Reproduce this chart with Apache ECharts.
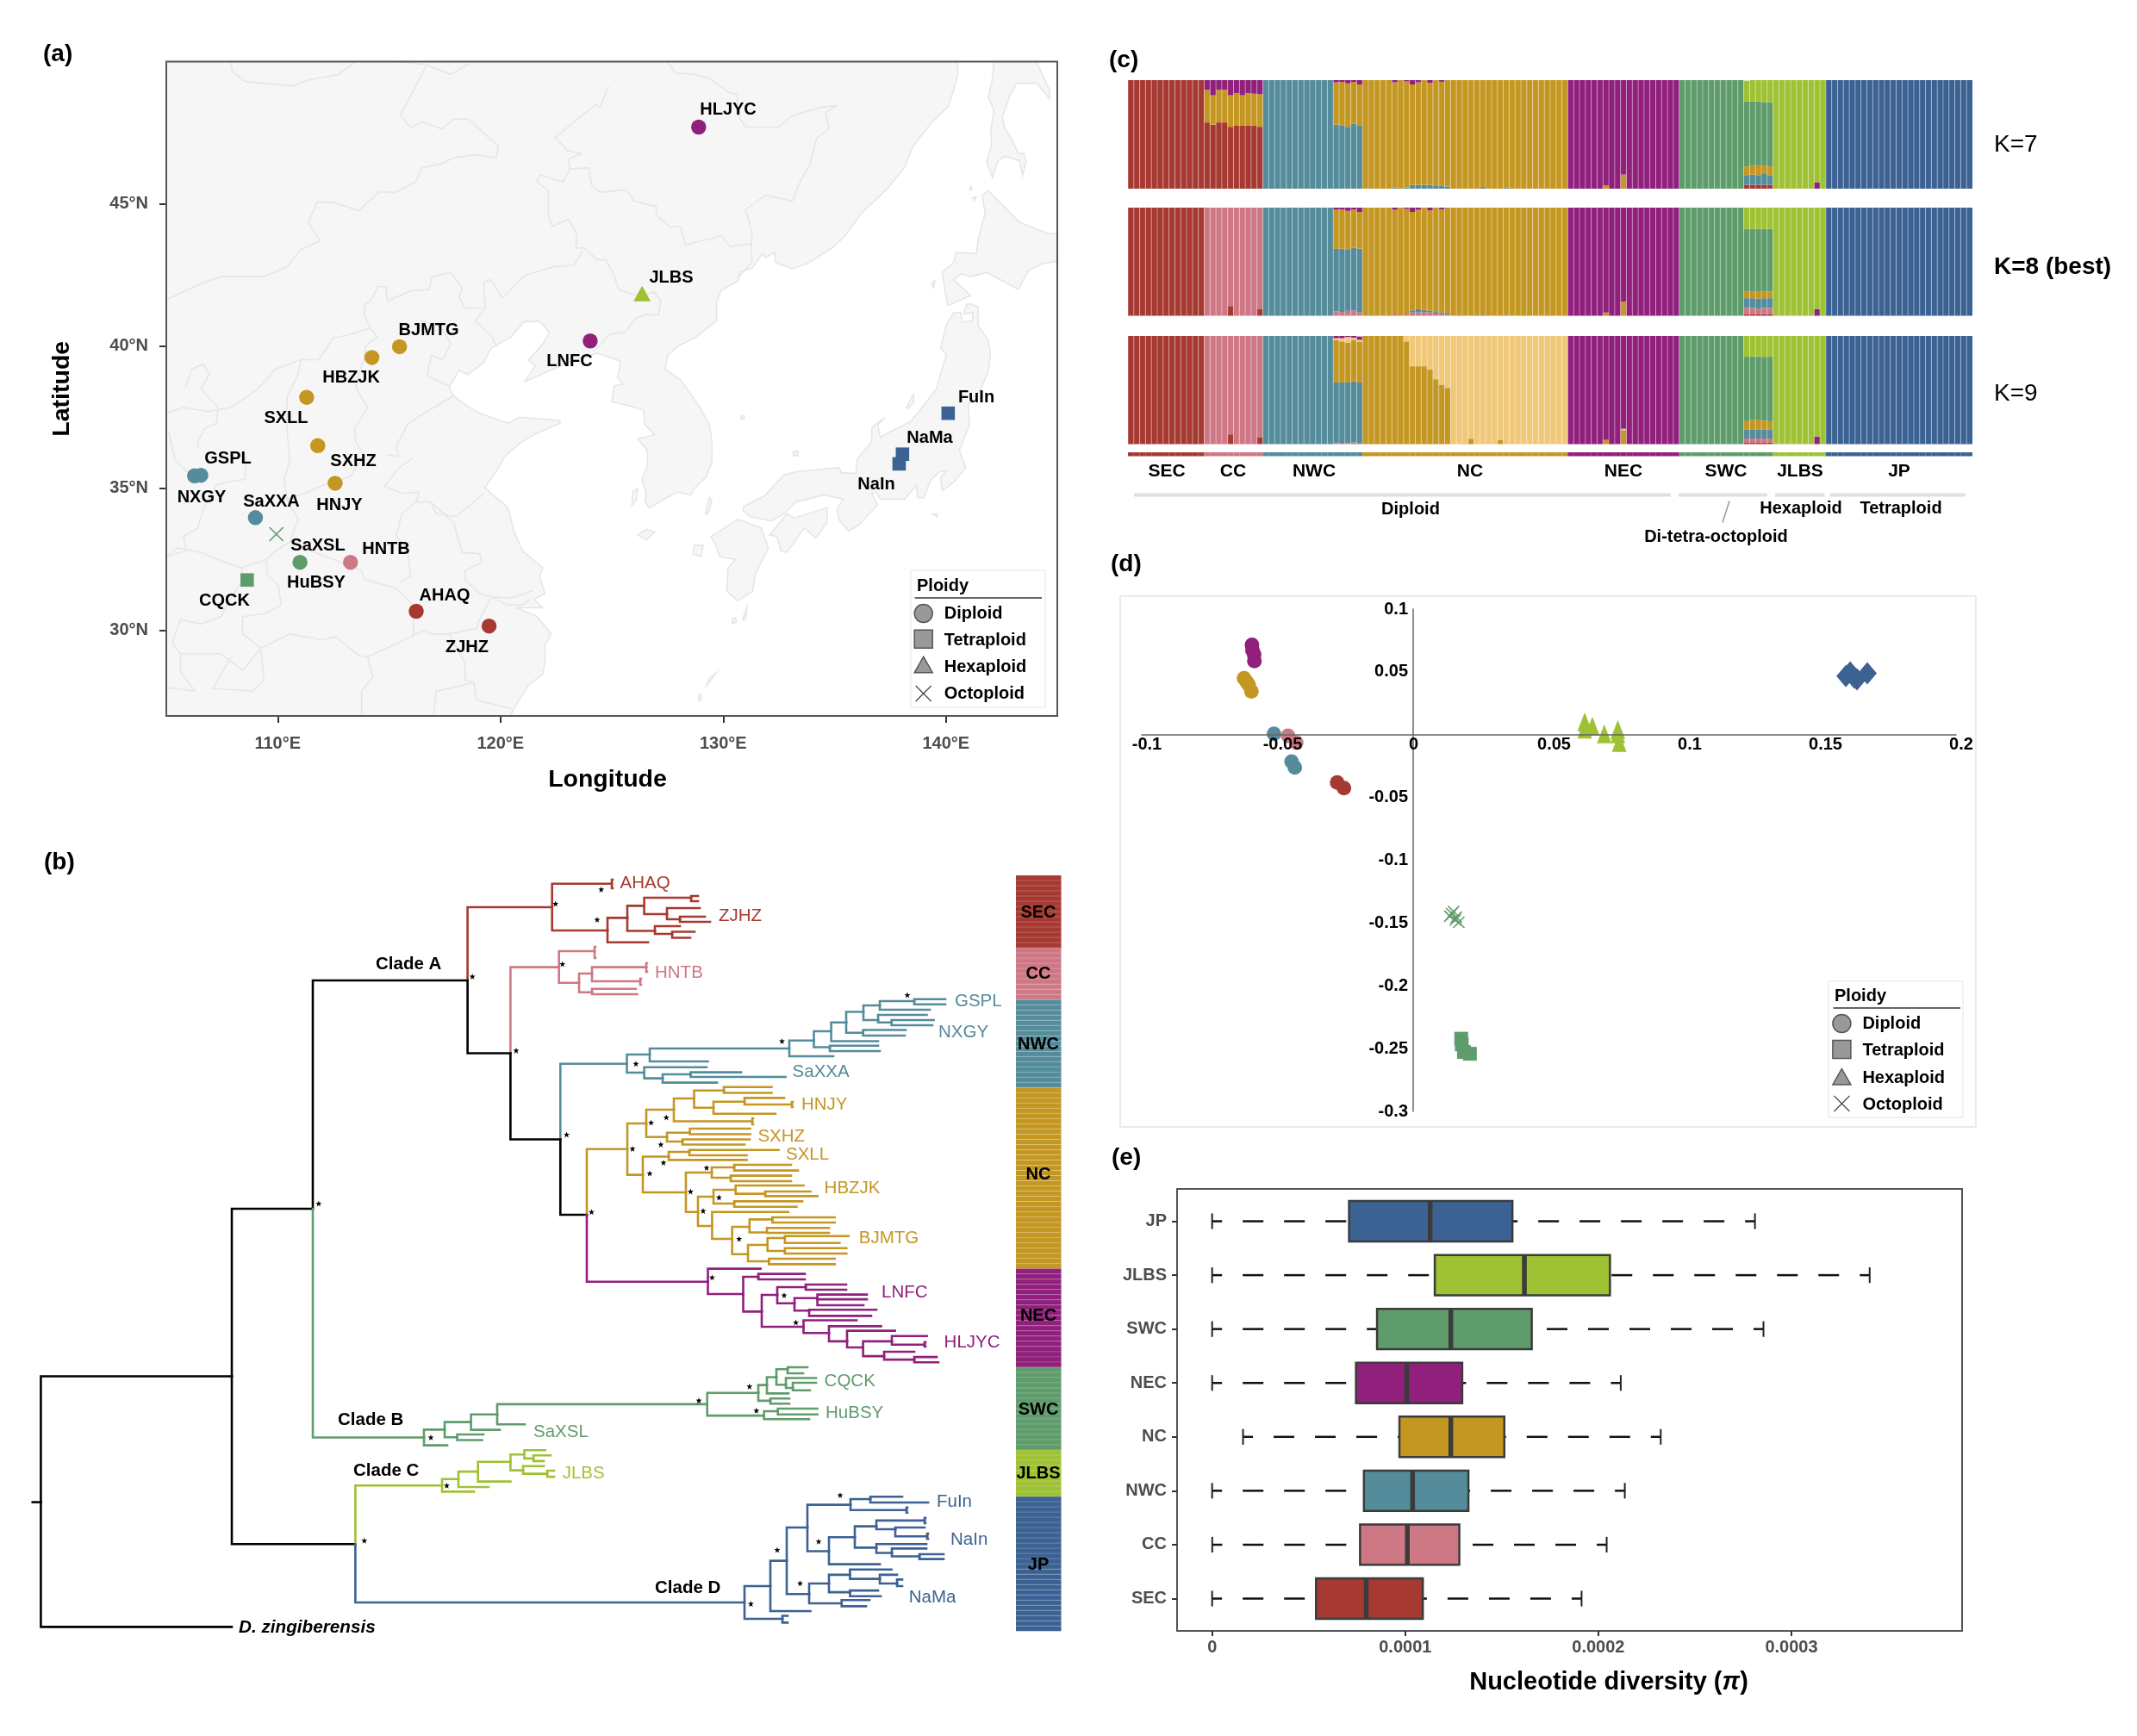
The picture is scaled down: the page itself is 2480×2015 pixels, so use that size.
<!DOCTYPE html>
<html><head><meta charset="utf-8">
<style>html,body{margin:0;padding:0;background:#fff}#c{width:2480px;height:2015px}</style>
<script src="https://cdn.jsdelivr.net/npm/echarts@6/dist/echarts.min.js"></script>
</head><body><div id="c"></div>
<script>
const FONT='"Liberation Sans"';
const RED='#A63A32',PINK='#CF7885',TEAL='#558C9B',GOLD='#C49723',LIGHT='#EFC87A',PURPLE='#90207C',GREEN='#5F9C6C',LIME='#9FC235',BLUE='#3C6293';

// ---------- (a) sampling sites [lon, lat]
const sitesDiploid=[
 {n:'HLJYC',c:PURPLE,p:[128.9,47.7]},{n:'LNFC',c:PURPLE,p:[124.03,40.18]},{n:'BJMTG',c:GOLD,p:[115.47,39.98]},
 {n:'HBZJK',c:GOLD,p:[114.23,39.6]},{n:'SXLL',c:GOLD,p:[111.3,38.2]},{n:'SXHZ',c:GOLD,p:[111.8,36.5]},
 {n:'HNJY',c:GOLD,p:[112.58,35.18]},{n:'GSPL',c:TEAL,p:[106.55,35.46]},{n:'NXGY',c:TEAL,p:[106.27,35.44]},
 {n:'SaXXA',c:TEAL,p:[109,33.97]},{n:'HuBSY',c:GREEN,p:[111,32.4]},{n:'HNTB',c:PINK,p:[113.27,32.4]},
 {n:'AHAQ',c:RED,p:[116.22,30.68]},{n:'ZJHZ',c:RED,p:[119.49,30.16]}];
const sitesTetraploid=[{n:'CQCK',c:GREEN,p:[108.63,31.78]},{n:'FuIn',c:BLUE,p:[140.1,37.64]},{n:'NaMa',c:BLUE,p:[138.05,36.2]},{n:'NaIn',c:BLUE,p:[137.9,35.86]}];
const sitesHexaploid=[{n:'JLBS',c:LIME,p:[126.36,41.85]}];
const sitesOctoploid=[{n:'SaXSL',c:GREEN,p:[109.94,33.39]}];
const latTicks=[30,35,40,45], lonTicks=[110,120,130,140];

// land outlines [lon,lat]
const landMain=[[105,50],[140.5,50],[140.54,49.6],[140.35,49],[140.09,48.4],[139.4,47.9],[138.5,47],[138.15,46.3],[137.4,45.56],[136.2,44.66],[135.45,43.85],[134.9,43.45],[133.77,42.9],[133.1,42.72],[132.35,42.94],[132.3,43.3],[131.9,43.1],[131.77,43.25],[131.3,42.74],[130.74,42.6],[130.67,42.3],[129.9,41.94],[129.7,41.53],[129.7,40.88],[128.74,40.3],[127.97,40],[127.5,39.67],[127.4,39.2],[128.1,38.8],[128.33,38.55],[128.87,37.95],[129.38,37.24],[129.5,36.63],[129.5,35.93],[129.25,35.42],[128.74,35.02],[128.55,34.77],[127.97,34.87],[127.45,34.67],[126.68,34.3],[126.48,34.57],[126.55,34.82],[126.35,35.3],[126.6,35.83],[126.6,36.33],[126.16,36.74],[126.93,36.89],[126.48,37.24],[126.42,37.74],[125.77,37.9],[125,38.05],[125.1,38.6],[125.5,38.66],[125.26,38.9],[125.39,39.47],[125.1,39.55],[124.34,39.75],[123.3,39.5],[122.28,39.16],[121.1,38.76],[121.57,39.3],[121.25,39.5],[121.9,40.07],[122.2,40.47],[121.76,40.88],[121.05,40.85],[120.47,40.32],[119.57,39.92],[119.25,39.42],[118.54,39],[118.15,39.16],[117.7,38.55],[117.9,38.25],[118.4,37.95],[119.05,37.64],[120.35,37.29],[120.86,37.5],[122.67,37.39],[122.67,37.29],[121.5,36.89],[120.86,36.58],[120.2,36.13],[119.83,35.63],[119.3,35.02],[120.34,34.32],[120.6,33.5],[121,32.8],[121.9,32.2],[121.76,31.9],[122,31.3],[121.5,31.1],[121.9,30.8],[120.73,30.8],[121.63,30.5],[122.28,29.88],[122,29.48],[122,28.87],[121.9,28.47],[121.25,28.07],[120.6,27.26],[120.47,27],[105,27]];
const landSakhalin=[[142.15,50],[142.09,49.4],[141.9,48.74],[142.15,48.3],[142.02,47.58],[142.05,47.08],[141.83,46.47],[142.09,45.92],[142.34,46.52],[142.67,46.67],[143.3,46.52],[143.44,46],[143.6,46.47],[143.5,46.77],[143.25,46.77],[142.92,47.33],[142.6,47.73],[142.54,48.08],[142.92,48.9],[143.18,49.24],[144.08,49.24],[144.66,48.69],[144.66,48.99],[144.06,50]];
const landHokkaido=[[141.9,45.46],[141.63,45.31],[141.76,44.66],[141.44,43.75],[141.38,43.25],[140.47,43.3],[140.34,42.94],[139.83,42.59],[139.96,41.94],[140.09,41.43],[141.12,41.78],[140.67,42.09],[140.34,42.34],[140.67,42.54],[141.12,42.44],[141.83,42.59],[143.25,41.99],[143.7,42.64],[144.34,42.9],[145.1,43],[145.1,43.95],[144.6,43.95],[143.3,44.35],[142.54,44.96]];
const landHonshu=[[140.93,41.48],[141.12,41.48],[141.44,41.38],[141.44,40.73],[141.9,40.2],[142,39.72],[141.9,39.11],[141.57,38.5],[141,37.95],[141.05,37.24],[140.6,36.33],[140.89,35.73],[140.35,35.22],[139.83,34.92],[139.76,35.37],[140.02,35.63],[139.7,35.58],[139.3,35.27],[139,34.67],[138.73,34.67],[138.67,35.12],[138.15,34.62],[137.06,34.62],[136.86,34.87],[136.67,34.82],[136.93,34.42],[136.09,33.71],[135.64,33.5],[135.19,33.91],[135.12,34.27],[135.38,34.62],[134.54,34.77],[133.25,34.52],[132.74,34.11],[132.16,33.86],[131.2,34.01],[130.9,34.22],[130.93,34.37],[131.83,34.72],[132.74,35.47],[133.25,35.58],[135.19,35.73],[135.32,35.55],[135.96,35.52],[136.02,36.03],[136.67,36.63],[136.67,37.14],[137.25,37.49],[136.93,37.24],[137.06,36.79],[137.5,36.99],[138.4,37.34],[138.93,37.84],[139.57,38.5],[140.02,39.72],[139.76,39.92],[140.02,40.73],[140.34,41.18],[140.67,41.18],[140.73,40.83],[141.18,40.88],[141.22,41.18],[140.8,41.13]];
const landShikoku=[[132.09,33.36],[132.87,34.11],[133.19,33.96],[134.67,34.32],[134.67,33.81],[134.16,33.26],[133.64,33.61],[132.87,32.75],[132.6,32.8],[132.41,33.31]];
const landKyushu=[[129.45,33.31],[130.67,33.91],[131.7,33.61],[132.03,32.9],[131.45,32],[131.32,31.39],[130.67,31.04],[130.16,31.39],[130.22,32.2],[130.54,32.5],[129.84,32.6],[129.64,33.05]];
const landSmall=[
 [[126.16,33.36],[126.55,33.56],[126.93,33.46],[126.55,33.2]],
 [[138.22,37.84],[138.54,38.3],[138.57,38.05],[138.28,37.79]],
 [[129.2,34.1],[129.38,34.67],[129.49,34.57],[129.32,34.1]],
 [[130.87,30.38],[131.06,30.8],[131,30.38]],[[130.4,30.4],[130.55,30.45],[130.6,30.3],[130.42,30.25]],
 [[129.38,28.32],[129.7,28.52],[129.26,28.07]],[[128.9,27.75],[129,27.75],[129,27.55],[128.9,27.55]],
 [[141.05,45.5],[141.12,45.62],[141.18,45.5]],[[141.2,45.2],[141.35,45.25],[141.3,45.12]],[[139.35,42.2],[139.5,42.3],[139.45,42.05]],
 [[130.8,37.55],[130.95,37.55],[130.95,37.45],[130.8,37.45]],[[133.15,36.3],[133.35,36.3],[133.35,36.15],[133.15,36.15]],
 [[128.7,33.0],[129.1,33.0],[129.0,32.6],[128.65,32.7]],[[125.95,34.9],[126.15,35],[126.1,34.6],[125.9,34.4]],
 [[139.4,34.1],[139.6,34.1],[139.6,34]]];
// province and national borders [lon,lat]
const borderLines=[
 [[105,41.63],[106.68,42.24],[107.45,42.44],[109.38,42.44],[110.42,42.79],[111.06,43.4],[111.9,43.7],[111.38,44.35],[111.77,45.06],[112.48,45.06],[113.64,44.76],[114.54,45.41],[115.3,45.41],[116.2,45.77],[116.48,46.27],[117.38,46.42],[117.9,46.62],[118.8,46.72],[119.83,46.62],[119.9,47.03],[119.12,47.58],[118.54,47.98],[117.9,47.98],[117.38,47.63],[116.48,47.88],[115.96,47.68],[115.5,48.13],[115.77,48.49],[116.67,49.85]],
 [[115.3,50],[116.6,49.9],[117.77,49.55],[118.54,49.9],[118.67,50]],
 [[107.9,50],[107.97,49.65],[108.55,49.3],[110.67,49.14],[111.32,49.34],[112.74,49.55],[113.5,50]],
 [[127.5,50],[127.85,49.6],[128.75,49.55],[129.4,49.4],[130.3,48.9],[130.65,48.85],[130.6,48.2],[131,47.7],[132.5,47.7],[133.1,48.1],[134.4,48.4],[135.1,48.45],[134.6,48.2],[134.75,47.65],[134.2,47.3],[133.9,46.4],[133.5,45.85],[133.1,45.1],[131.9,45.3],[131,44.8],[131.3,44],[131.25,43.45],[131.3,42.95],[130.65,42.4]],
 [[124.86,49.14],[124.47,48.39],[124.28,48.49],[123.3,47.88],[122.47,47.33],[123,46.87],[123.63,46.77],[123.05,46.57],[123.12,46.22],[123.96,46.27],[124.09,45.67],[124.47,45.41],[125.65,45.5],[126,45.1],[127,44.9],[127,44.6],[127.6,44.2],[128.1,44.2],[128.3,43.55],[129,43.7],[129.6,43.8],[129.9,43.9],[130.3,43.5],[131.3,43.6]],
 [[121.63,45.77],[121.77,46.02],[122.8,45.77],[123.12,46.22]],
 [[121.63,45.77],[122.15,45.46],[122.15,44.56],[122.34,44.2],[123.05,44.46],[123.44,43.95],[123.38,43.45],[123.76,43.45],[124.34,43.04],[124.73,43.04],[125.1,42.49],[125.3,42],[126,41.8],[126.5,41.8],[126.9,41.9],[127.2,41.6],[127.1,41.1],[126.5,41.1],[126.1,41],[125.6,40.5],[124.9,40.4],[124.3,39.9]],
 [[123.7,43.35],[123.3,42.84],[122.4,42.79],[121.1,42.49],[120.09,41.68],[119.57,42.34],[119.25,42.24],[119.32,41.33],[118.86,40.88],[119.64,40.32],[119.83,39.97]],
 [[119.25,41.33],[118.41,41.33],[118.15,41.73],[118.28,42.04],[117.77,42.6],[116.93,42.44],[116.8,41.99],[115.96,41.94],[114.93,41.58],[114.86,42.09],[114.48,42.09],[114.22,41.63],[113.9,41.43],[113.9,41.08],[114.15,40.63],[114.48,40.32],[113.96,40.02],[113.9,39.6],[113.6,38.9],[113.5,38.55],[114.03,37.84],[113.45,37.09],[113.51,36.63],[113.9,36.13],[113.51,35.73],[113.25,35.42],[112.09,35.12],[111.19,34.82],[110.42,34.62]],
 [[114.15,40.63],[113.2,40.4],[112.48,40.27],[111.83,39.52],[111.06,39.52],[109.9,39.2],[109.13,38.5],[107.9,37.84],[106.9,37.7],[105.77,37.84],[105,37.64]],
 [[111.06,39.52],[110.9,39],[110.42,38.2],[110.42,37.04],[110.54,36.0],[110.29,35.3],[110.42,34.62],[110.93,33.9],[110.54,33.11]],
 [[105.84,38.5],[106.16,39.2],[106.68,39.36],[106.93,39],[106.55,38.5],[107.32,37.84],[107.26,37.29],[106.68,37.09],[106.42,36.6],[106.42,36.38]],
 [[108.55,36.13],[108.55,35.32],[107.71,35.22],[107.26,35.12],[106.68,34.32],[106.42,33.61],[105.77,33.31],[105.9,32.8],[105,32.6]],
 [[105.1,37],[105.4,36],[105.9,35.6],[106.42,35.4]],
 [[105.0,32.6],[105.5,32.9],[106.55,32.75],[107.32,32.5],[108.35,32.2],[109.51,32.5],[109.9,32.8],[110.54,33.11],[111.19,32.9],[111.83,32.7],[112.87,32.4],[113.77,32.1],[113.9,31.8],[115.32,31.49],[115.44,31.39],[116.09,30.89]],
 [[109.51,32.5],[109.51,31.99],[110.03,31.59],[110.16,30.89],[109.38,30.59],[108.42,30.49],[108.42,29.88],[109.26,29.38],[110.54,29.88],[111.96,29.68],[112.61,29.78],[113.64,29.12],[114.03,29.07],[115.96,29.78],[116.6,30.03]],
 [[108.42,32.2],[108.35,31.7],[107.58,30.69],[107.45,30.49],[106.55,30.23],[105.64,30.39],[105.26,29.58],[105.64,29.18],[107.45,29.18],[108.42,28.6],[109.26,29.38]],
 [[109.26,29.3],[109.38,28.27],[108.87,27.87],[107.1,27.97],[107.9,29.07]],
 [[105,28],[106.29,27.87],[105.64,28.55],[105.64,29.18]],
 [[114.03,29.07],[114.28,28.37],[113.77,27.87],[113.77,27]],
 [[116.09,30.89],[116.09,29.78]],
 [[119.57,31.14],[119.06,30.39],[118.93,30.08],[117.7,29.88],[116.86,29.88],[116.6,30.03]],
 [[117.7,29.88],[118.41,28.87],[118.41,28.27],[118.8,28.17],[118.93,27.56],[120.47,27.26]],
 [[118.8,28.17],[117.12,27.87],[116.99,27]],
 [[117.9,38.25],[116.35,37.54],[115.83,37.24],[115.32,36.48],[115.44,36.13],[114.93,36.18]],
 [[116.09,36.08],[115.44,35.73],[114.8,35.07],[115.57,34.82],[116.35,34.87],[116.22,34.52],[116.86,34.52],[117.12,34.11],[118.02,34.01],[119.25,34.82]],
 [[116.22,34.52],[115.57,34.11],[115.32,33.31],[115.83,32.9],[115.96,31.9],[115.44,31.69]],
 [[116.86,34.52],[117.9,33.81],[118.28,32.75],[119.06,32.7],[119.18,32.4],[118.41,32.1],[118.41,31.8],[119.06,31.3],[119.57,31.19],[120.47,31.14],[121.44,31.4]],
 [[116.4,40.9],[117.3,40.7],[117.77,40.1],[117.4,39.5],[116.9,39.7],[116.7,38.95],[117.7,38.6]],
 [[119.57,31.19],[120.3,30.9],[121,30.9],[121.3,31.1]]];

// ---------- (b) phylogeny: [branch end x, node y, children, colour]
const cladeSEC=[640.7,1053,[[710,1025.8,[[711,1021],[711,1031]]],[705,1080,[[728,1065.4,[[747.6,1051.4,[[802,1042,[[810,1040],[810,1046]]],[774,1061,[[812,1054],[789,1067,[[818,1064],[824,1070]]]]]]],[760,1080.5,[[789,1075],[780,1084,[[806,1081.5],[801,1088.5]]]]]]],[752,1093.8]]]],RED];
const cladeCC=[648.7,1122.6,[[690,1104,[[691,1099],[691,1112]]],[672,1140.8,[[687,1130,[[750,1122.6,[[751,1118],[751,1128]]],[743,1139,[[744,1136],[744,1143]]]]],[687,1151.7,[[738,1147.8],[739.5,1154]]]]]],PINK];
const cladeNWC=[727.5,1234.8,[[754,1224,[[916,1217,[[944.5,1207.8,[[964.6,1197,[[982,1186.8,[[1002,1174.5,[[1021,1167,[[1061,1162,[[1097,1159.8],[1097,1165.7]]],[1079,1172]]],[1019,1184,[[1075.5,1178],[1034.6,1186.8,[[1083.6,1184],[1082,1190]]]]]]],[1001.6,1198.7,[[1051,1195.5],[1050,1202]]]]],[1019,1208.5]]],[963,1215.5,[[1019,1213.8],[1021,1220]]]]],[967,1226]]],[821.5,1232]]],[747.6,1245,[[820,1238.7],[769,1251.6,[[801.4,1247,[[860,1244.6],[911.6,1250]]],[832,1256.6]]]]]],TEAL];
const cladeNC=[728,1333.7,[[750,1304,[[782,1288,[[805.5,1275,[[840,1265.7,[[895.5,1261.8],[895.5,1268.5]]],[828,1285.7,[[864,1278.7,[[910,1274.4],[919,1282,[[920,1279],[920,1285]]]]],[900,1292.7]]]]],[873,1301.5,[[874,1298],[874,1305]]]]],[774,1319.7,[[800.6,1314.8,[[870.6,1310],[870.6,1316.5]]],[792,1325,[[870,1322.5],[864,1328.5]]]]]]],[746,1363.6,[[776,1342.5,[[800,1337,[[903.5,1334.8],[866.6,1341]]],[866.6,1346.4]]],[796,1384,[[826,1361,[[852,1355,[[918,1352],[926,1358.6]]],[848,1367,[[918,1364.6],[918,1371]]]]],[810,1406.7,[[828,1389,[[853.7,1381,[[932.5,1376],[888,1385.6,[[940.5,1383],[948.6,1388.4]]]]],[852,1397,[[931,1394.4],[924.4,1400.7]]]]],[826.4,1423,[[914.8,1406.7],[849.7,1438,[[869.8,1424,[[896.3,1415.4,[[968.7,1413],[968.7,1419]]],[890,1430.5,[[962,1425.3],[962,1431]]]]],[868,1455.8,[[890.7,1445,[[910.8,1437,[[984.7,1434.8],[974.3,1442.8]]],[910.8,1452,[[982.3,1448.8],[982.3,1455]]]]],[892.3,1464,[[968.7,1461],[968.7,1467.4]]]]]]]]]]]]]]]],GOLD];
const cladeNEC=[821.5,1487.7,[[882.6,1472.6],[862.5,1502,[[880,1482,[[934,1478.6],[934,1485]]],[884,1522,[[902,1503,[[935,1494,[[982,1491],[982,1497]]],[922,1512.5,[[948.6,1506.6,[[1006,1502.6],[1006,1508],[1002,1514.8]]],[939,1521,[[1017,1520],[1011,1527]]]]]]],[932.5,1539.4,[[994,1532],[962,1546.6,[[1022.5,1538.8],[983,1556,[[1038.6,1544],[1001.6,1563,[[1035,1556,[[1075.6,1550],[1073,1559.8,[[1074,1557],[1074,1562]]]]],[1026,1573,[[1061,1568],[1061,1577,[[1087,1574],[1089,1580]]]]]]]]]]]]]]]]]],PURPLE];
const cladeSWC=[492,1666,[[519,1675],[516,1657,[[546.6,1648.4,[[577,1639.6,[[820.7,1628,[[880,1615,[[890,1606,[[901,1597,[[914,1588,[[937,1585.7],[932,1592.6]]],[912,1605.7,[[947,1598],[920,1609.4,[[947,1603.4],[940,1612]]]]]]],[915,1615.6]]],[894,1624,[[916,1621.5],[916,1627.4]]]]],[886.7,1641,[[902.7,1636,[[948.6,1633],[948.6,1639.6]]],[939,1645]]]]],[609,1651]]],[580,1657.3]]],[530.5,1665.8,[[561,1662.6],[559.5,1669]]]]]],GREEN];
const cladeJLBS=[513,1721,[[550,1728],[532,1713.5,[[567,1722.7],[554.7,1705,[[592.4,1693.8,[[608.5,1685.5,[[632.6,1680.6],[619,1690,[[639,1686.5],[631,1693]]]]],[607,1703.6,[[631,1698.7],[635,1707.5,[[643,1704],[643,1711]]]]]]],[592.4,1716.4]]]]]],LIME];
const cladeJP=[864,1854.7,[[908,1873.4,[[914,1870],[914,1877.7]]],[894,1836,[[940.5,1864.5],[913,1807,[[937,1769,[[987,1743,[[1010,1736.5,[[1047,1733.8],[1077,1740.4]]],[1052,1749,[[1053,1746],[1053,1752]]]]],[962,1796,[[1021,1811],[992,1780,[[1017,1767.6,[[1073,1761,[[1074,1758],[1074,1764]]],[1039,1771,[[1073,1769],[1076,1779,[[1077,1776],[1077,1782]]]]]]],[1017,1792,[[1075,1788],[1035,1798,[[1075,1793],[1067,1802,[[1095,1799.5],[1095,1805]]]]]]]]]]]]],[939,1845,[[962,1833,[[986.4,1823,[[1034.6,1817],[1021,1827.7,[[1041,1823],[1041,1833,[[1047,1828.4],[1047,1836]]]]]]],[986.4,1843,[[1019,1841],[1022,1847.5]]]]],[976.7,1855.6,[[1009,1852],[1005,1859]]]]]]]]]],BLUE];
const treeRoot=[47.4,1740,[[269,1596,[[363,1403,[[542.6,1138,[cladeSEC,[592.4,1222.5,[cladeCC,[650.3,1322.5,[cladeNWC,[681,1410,[cladeNC,cladeNEC]]]]]]]],cladeSWC]],[412.4,1788,[cladeJLBS,cladeJP]]]],[269,1882.6]],'#000'];
const supportStars=[[697.7,1032.4],[644.7,1049],[693,1067.5],[548.2,1133.5],[652.7,1119],[599,1219.4],[1053,1155],[907.5,1208.5],[738,1234.8],[657.6,1317],[773.3,1297],[755.6,1303],[766.9,1328.5],[734,1333.4],[770,1349.5],[754,1362],[820,1355.5],[801.4,1383],[834.4,1389.9],[816,1405.6],[857.7,1438],[686.5,1406.7],[369.8,1397],[826.4,1482.8],[910,1503.5],[923.6,1534.5],[869.8,1607.7],[811,1623.8],[877.8,1635.3],[500,1666],[518.5,1721],[422.8,1784],[975,1732],[950,1785],[902,1794.6],[928.5,1832.7],[871.4,1856.3]];
// the lower part of the tree was read at a slightly different vertical crop scale
const cal=y=>y>1500?y+(y-1500)*.015:y;
// rows of the colour band beside the tree
const bandCounts=[14,10,17,35,19,16,9,26];

// ---------- (c) ancestry, one value per sample
const groups=['SEC','CC','NWC','NC','NEC','SWC','JLBS','JP'];
const groupCounts=[13,10,17,35,19,16,9,25];
const groupColors=[RED,PINK,TEAL,GOLD,PURPLE,GREEN,LIME,BLUE];
const f=(v,n)=>Array(n).fill(v);
const k7={
 purpleLow:[...f(0,117),.06,...f(0,26)],
 red:[...f(1,13),.61,.59,.61,.61,.57,.58,.58,.58,.58,.57,...f(0,71),...f(0,11),.035,.035,.035,.035,.035,...f(0,34)],
 pink:f(0,144),
 teal:[...f(0,23),...f(1,12),.59,.58,.57,.6,.58,0,0,0,0,0,.012,0,.01,.035,.035,.035,.035,.03,.025,.02,0,0,0,0,0,.015,0,0,0,.012,...f(0,10),...f(0,19),...f(0,11),.09,.095,.09,.1,.09,...f(0,34)],
 gold:[...f(0,13),.3,.27,.3,.3,.29,.3,.28,.3,.295,.3,...f(0,12),.39,.404,.4,.384,.38,1,1,1,1,1,.968,1,.978,.925,.945,.965,.94,.97,.96,.98,1,1,1,1,1,.985,1,1,1,.988,...f(1,10),...f(0,6),.03,0,0,.13,...f(0,9),...f(0,11),.08,.085,.09,.08,.08,...f(0,34)],
 light:f(0,144),
 green:[...f(0,94),...f(1,11),.6,.59,.59,.58,.59,...f(0,34)],
 lime:[...f(0,105),.19,.195,.195,.205,.205,1,1,1,1,1,1,1,.94,1,...f(0,25)],
 purple:[...f(0,13),.09,.14,.09,.09,.14,.12,.14,.12,.125,.13,...f(0,12),.02,.016,.03,.016,.04,0,0,0,0,0,.02,0,.012,.04,.02,0,.025,0,.015,...f(0,21),...f(1,6),.97,1,1,.87,...f(1,9),...f(0,50)],
 blue:[...f(0,119),...f(1,25)]};
const k8={
 purpleLow:[...f(0,117),.06,...f(0,26)],
 red:[...f(1,13),0,0,0,0,.09,0,0,0,0,.065,...f(0,71),...f(0,11),.012,.012,.012,.012,.012,...f(0,34)],
 pink:[...f(0,13),1,1,1,1,.91,1,1,1,1,.935,...f(0,12),.04,.035,.045,.05,.03,0,0,0,0,0,.02,0,.012,.03,.03,.035,.03,.02,.02,.01,...f(0,20),...f(0,19),...f(0,11),.06,.06,.05,.06,.06,...f(0,34)],
 teal:[...f(0,23),...f(1,12),.578,.585,.565,.58,.59,0,0,0,0,0,0,0,0,.02,.03,.02,.015,.015,.012,.01,0,0,0,0,0,.01,0,0,0,.008,...f(0,10),...f(0,19),...f(0,11),.09,.09,.095,.09,.09,...f(0,34)],
 gold:[...f(0,23),...f(0,12),.362,.364,.36,.354,.34,1,1,1,1,1,.96,1,.976,.91,.92,.945,.93,.965,.953,.98,1,1,1,1,1,.99,1,1,1,.992,...f(1,10),...f(0,6),.03,0,0,.13,...f(0,9),...f(0,11),.06,.06,.07,.06,.06,...f(0,34)],
 light:f(0,144),
 green:[...f(0,94),...f(1,11),.582,.58,.575,.58,.58,...f(0,34)],
 lime:[...f(0,105),.196,.198,.198,.198,.198,1,1,1,1,1,1,1,.94,1,...f(0,25)],
 purple:[...f(0,35),.02,.016,.03,.016,.04,0,0,0,0,0,.02,0,.012,.04,.02,0,.025,0,.015,...f(0,21),...f(1,6),.97,1,1,.87,...f(1,9),...f(0,50)],
 blue:[...f(0,119),...f(1,25)]};
const k9={
 purpleLow:[...f(0,117),.07,...f(0,26)],
 red:[...f(1,13),0,0,0,0,.09,0,0,0,0,.065,...f(0,71),...f(0,11),.012,.012,.012,.012,.012,...f(0,34)],
 pink:[...f(0,13),1,1,1,1,.91,1,1,1,1,.935,...f(0,12),.01,.005,.01,.015,.005,...f(0,35),...f(0,19),...f(0,11),.04,.04,.04,.04,.04,...f(0,34)],
 teal:[...f(0,23),...f(1,12),.56,.565,.56,.565,.565,...f(0,35),...f(0,19),...f(0,11),.08,.08,.085,.08,.08,...f(0,34)],
 gold:[...f(0,23),...f(0,12),.39,.38,.37,.385,.375,1,1,1,1,1,1,1,.95,.72,.72,.72,.69,.6,.55,.52,0,0,.005,.05,0,0,0,0,.04,...f(0,11),...f(0,6),.04,0,0,.13,...f(0,9),...f(0,11),.08,.09,.09,.085,.08,...f(0,34)],
 light:[...f(0,35),.02,.03,.05,.02,.02,0,0,0,0,0,0,0,.05,.28,.28,.28,.31,.4,.45,.48,1,1,.995,.95,1,1,1,1,.96,...f(1,11),...f(0,9),.012,...f(0,9),...f(0,50)],
 green:[...f(0,94),...f(1,11),.596,.59,.585,.59,.596,...f(0,34)],
 lime:[...f(0,105),.192,.188,.188,.193,.192,1,1,1,1,1,1,1,.93,1,...f(0,25)],
 purple:[...f(0,35),.02,.02,.01,.015,.03,...f(0,35),...f(1,6),.96,1,1,.858,...f(1,9),...f(0,50)],
 blue:[...f(0,119),...f(1,25)]};
const layerColors={purpleLow:PURPLE,red:RED,pink:PINK,teal:TEAL,gold:GOLD,light:LIGHT,green:GREEN,lime:LIME,purple:PURPLE,blue:BLUE};

// ---------- (d) PCoA [PC1, PC2]
const pcoaCircles=[
 {c:PURPLE,p:[[-.0594,.0716],[-.0592,.067],[-.0586,.064],[-.0585,.0587]]},
 {c:GOLD,p:[[-.0623,.045],[-.0613,.042],[-.0606,.0398],[-.0596,.0344]]},
 {c:TEAL,p:[[-.0513,.0007],[-.0448,-.0215],[-.0436,-.0261]]},
 {c:PINK,p:[[-.0461,-.0009],[-.0431,-.0063]]},
 {c:RED,p:[[-.028,-.0381],[-.0255,-.0426]]}];
const pcoaDiamonds=[[.1594,.0467],[.161,.0495],[.1635,.0441],[.1673,.0488],[.1625,.0455]];
const pcoaTriangles=[[.0632,.0103],[.066,.0069],[.0632,.0045],[.0704,.0007],[.0754,.0041],[.0754,.0007],[.0759,-.0062]];
const pcoaCrosses=[[.0149,-.1408],[.0135,-.1445],[.0142,-.1425],[.0159,-.1454],[.0155,-.1475],[.0168,-.1494]];
const pcoaSquares=[[.0177,-.2421],[.0179,-.2466],[.0187,-.2527],[.0209,-.2541]];

// ---------- (e) nucleotide diversity
const boxCats=['SEC','CC','NWC','NC','NEC','SWC','JLBS','JP'];
const boxColors=[RED,PINK,TEAL,GOLD,PURPLE,GREEN,LIME,BLUE];
const boxMin=[0,.00000006,0,.000016,0,0,0,0];
const boxQ1=[.0000538,.0000766,.0000786,.000097,.0000745,.0000854,.0001153,.0000709];
const boxMed=[.0000798,.0001011,.0001038,.0001236,.0001008,.0001236,.0001617,.0001129];
const boxQ3=[.0001091,.000128,.0001327,.0001513,.0001295,.0001655,.000206,.0001555];
const boxMax=[.0001913,.0002043,.0002137,.0002323,.0002116,.0002855,.0003405,.0002811];
const boxTicks=[0,.0001,.0002,.0003];

// ---------- text labels
const mapLabels=[['HLJYC',845,126],['JLBS',779,321],['BJMTG',497.6,382],['HBZJK',407.6,437],['LNFC',661,417.6],['SXLL',332,483.6],['SXHZ',410,534],['HNJY',394,585],['GSPL',264.5,531],['NXGY',234,576],['SaXXA',315,581],['SaXSL',369,632],['HNTB',448,636],['HuBSY',367,675],['CQCK',260.5,696],['AHAQ',516,690],['ZJHZ',542,750],['FuIn',1133,460],['NaMa',1079,507],['NaIn',1017,560.6]];
const treeLabels=[['AHAQ',719.5,1024,RED],['ZJHZ',834,1062,RED],['HNTB',760,1128,PINK],['GSPL',1108,1160.5,TEAL],['NXGY',1089,1197,TEAL],['SaXXA',919.6,1243,TEAL],['HNJY',930,1280.4,GOLD],['SXHZ',879.4,1318,GOLD],['SXLL',912,1339,GOLD],['HBZJK',956.6,1377.6,GOLD],['BJMTG',996.8,1435.5,GOLD],['LNFC',1023,1498.6,PURPLE],['HLJYC',1095.6,1556,PURPLE],['CQCK',956.6,1600.8,GREEN],['HuBSY',958,1636.6,GREEN],['SaXSL',619,1658.3,GREEN],['JLBS',652.7,1706,LIME],['FuIn',1087,1738.4,BLUE],['NaIn',1103,1781.8,BLUE],['NaMa',1054.7,1848,BLUE]];
const cladeLabels=[['Clade A',436,1117.7],['Clade B',392,1644.5],['Clade C',410,1702.6],['Clade D',760,1837]];
const bandLabels=[['SEC',1057.7],['CC',1128.5],['NWC',1211],['NC',1362],['NEC',1526],['SWC',1633],['JLBS',1706],['JP',1810]];
const structLabels=[['SEC',1354],['CC',1431],['NWC',1525],['NC',1706],['NEC',1884],['SWC',2003],['JLBS',2089],['JP',2204]];
const ploidyRows=['Diploid','Tetraploid','Hexaploid','Octoploid'];

// ---------- build helpers
const font=(s,w='',st='')=>`${st} ${w} ${s}px ${FONT}`.trim();
const T=(text,x,y,size,opt={})=>({type:'text',z:100,silent:true,style:{text,x,y:y+1.5,font:font(size,opt.w||'',opt.st||''),fill:opt.c||'#000',
  textAlign:opt.a||'left',align:opt.a||'left',textVerticalAlign:'middle',verticalAlign:'middle',rich:opt.rich}});
function treeSegs(node,parent,color,out){
  const c=node[3]||color;
  if(parent) out.push({c,pts:[[parent[0],cal(parent[1])],[parent[0],cal(node[1])],[node[0],cal(node[1])]]});
  (node[2]||[]).forEach(k=>treeSegs(k,node,c,out));
  return out;
}
const segs=treeSegs(treeRoot,null,'#000',[]);
segs.push({c:'#000',pts:[[37.8,cal(1740)],[47.4,cal(1740)]]});
const lands=[landMain,landSakhalin,landHokkaido,landHonshu,landShikoku,landKyushu,...landSmall];

const XSYM='path://M0 0L10 10M10 0L0 10';
const STAR='path://M5 0L6.2 3.5 10 3.6 7 6 8.1 10 5 7.6 1.9 10 3 6 0 3.6 3.8 3.5Z';

const grids=[
 {left:193,top:71.5,width:1034,height:759.5,show:true,borderColor:'#555',borderWidth:2,z:5},  //0 map
 {left:0,top:0,width:2480,height:2015},                                                         //1 tree
 {left:1179,top:1016,width:52.5,height:877.3},                                                  //2 band
 {left:1309,top:93,width:980,height:126},                                                       //3
 {left:1309,top:241,width:980,height:125.5},                                                    //4
 {left:1309,top:390,width:980,height:125.5},                                                    //5
 {left:1309,top:525,width:980,height:4.5},                                                      //6
 {left:1325,top:707,width:945,height:583},                                                      //7 pcoa
 {left:1366,top:1380,width:911,height:513,show:true,borderColor:'#555',borderWidth:2}];         //8 box
const samples=f(0,144).map((_,i)=>i);
const bandColor=[];bandCounts.forEach((n,g)=>{for(let i=0;i<n;i++)bandColor.push(groupColors[g]);});
const bandRows=bandColor.map((_,i)=>i);
const hiddenCat=(g,inv,data)=>({type:'category',gridIndex:g,data:data||samples,show:false,inverse:!!inv,boundaryGap:true});
const hiddenVal=(g,min,max,inv)=>({type:'value',gridIndex:g,min,max,show:false,inverse:!!inv,splitLine:{show:false}});
const tickLab={color:'#4d4d4d',fontFamily:FONT,fontWeight:'bold',fontSize:20};
const noLine={show:false,onZero:false};
const xAxes=[
 {type:'value',gridIndex:0,min:105,max:145,splitLine:{show:false},axisLine:noLine,axisTick:{show:true,length:8,lineStyle:{color:'#333',width:2},customValues:lonTicks},
  axisLabel:{...tickLab,margin:22,customValues:lonTicks,formatter:v=>v+'°E'},name:'Longitude',nameLocation:'middle',nameGap:60,nameTextStyle:{fontFamily:FONT,fontWeight:'bold',fontSize:28.5,color:'#000',padding:[0,10,0,0]}},
 hiddenVal(1,0,2480),
 hiddenVal(2,0,1),
 hiddenCat(3),hiddenCat(4),hiddenCat(5),hiddenCat(6),
 {type:'value',gridIndex:7,z:8,min:-.1,max:.2,interval:.05,offset:-437.25,splitLine:{show:false},axisTick:{show:false},axisLine:{onZero:false,lineStyle:{color:'#666',width:1.5}},
  axisLabel:{color:'#000',fontFamily:FONT,fontWeight:'bold',fontSize:20,margin:0,padding:[2,0,0,12],showMinLabel:true,showMaxLabel:true,hideOverlap:false,
   formatter:v=>Math.abs(v)<1e-9?'{z|0}':String(+v.toFixed(2)),rich:{z:{color:'#000',fontFamily:FONT,fontWeight:'bold',fontSize:20,padding:[0,11,0,0]}}}},
 {type:'value',gridIndex:8,min:-.00001816,max:.00038835,splitLine:{show:false},axisLine:noLine,axisTick:{show:true,length:6,lineStyle:{color:'#333',width:2},customValues:boxTicks},
  axisLabel:{...tickLab,margin:9,customValues:boxTicks,formatter:v=>v===0?'0':v.toFixed(4)}}];
const yAxes=[
 {type:'value',gridIndex:0,min:27,max:50,splitLine:{show:false},axisLine:noLine,axisTick:{show:true,length:8,lineStyle:{color:'#333',width:2},customValues:latTicks},
  axisLabel:{...tickLab,margin:21,padding:[6,0,0,0],customValues:latTicks,formatter:v=>v+'°N'},name:'Latitude',nameLocation:'middle',nameGap:106,nameTextStyle:{fontFamily:FONT,fontWeight:'bold',fontSize:28.5,color:'#000'}},
 hiddenVal(1,0,2015,true),
 hiddenCat(2,true,bandRows),
 hiddenVal(3,0,1),hiddenVal(4,0,1),hiddenVal(5,0,1),hiddenVal(6,0,1),
 {type:'value',gridIndex:7,z:8,min:-.3,max:.1,interval:.05,offset:-315,splitLine:{show:false},axisTick:{show:false},axisLine:{onZero:false,lineStyle:{color:'#666',width:1.5}},
  axisLabel:{color:'#000',fontFamily:FONT,fontWeight:'bold',fontSize:20,margin:6,padding:[3,0,0,0],hideOverlap:false,showMinLabel:true,showMaxLabel:true,formatter:v=>Math.abs(v)<1e-9?'':String(+v.toFixed(2))}},
 {type:'value',gridIndex:8,min:.4,max:8.6,splitLine:{show:false},axisLine:noLine,axisTick:{show:true,length:6,lineStyle:{color:'#333',width:2},customValues:[1,2,3,4,5,6,7,8]},
  axisLabel:{...tickLab,margin:12,customValues:[1,2,3,4,5,6,7,8],formatter:v=>boxCats[v-1]}}];

const series=[];
// map land and borders
series.push({type:'custom',xAxisIndex:0,yAxisIndex:0,silent:true,clip:true,z:1,data:lands.map((_,i)=>[i,0]),
 renderItem:(p,api)=>({type:'polygon',shape:{points:lands[api.value(0)].map(q=>api.coord(q))},style:{fill:'#f6f6f6',stroke:'#e6e6e6',lineWidth:1.6}})});
series.push({type:'custom',xAxisIndex:0,yAxisIndex:0,silent:true,clip:true,z:2,data:borderLines.map((_,i)=>[i,0]),
 renderItem:(p,api)=>({type:'polyline',shape:{points:borderLines[api.value(0)].map(q=>api.coord(q))},style:{stroke:'#e6e6e6',lineWidth:1.6,fill:null}})});
const siteSeries=(list,sym,size,extra)=>list.forEach(s=>series.push({type:'scatter',name:s.n,xAxisIndex:0,yAxisIndex:0,z:6,symbol:sym,symbolSize:size,silent:true,data:[s.p],
  itemStyle:Object.assign({color:s.c,opacity:1},extra?extra(s):{})}));
siteSeries(sitesDiploid,'circle',17.5);
siteSeries(sitesTetraploid,'rect',15.6);
siteSeries(sitesHexaploid,'triangle',[20,18]);
siteSeries(sitesOctoploid,XSYM,16,s=>({color:'none',borderColor:s.c,borderWidth:1.6}));
// tree
series.push({type:'custom',xAxisIndex:1,yAxisIndex:1,silent:true,clip:false,z:3,data:segs.map((_,i)=>[i,0]),
 renderItem:(p,api)=>{const s=segs[api.value(0)];return {type:'polyline',shape:{points:s.pts.map(q=>api.coord(q))},style:{stroke:s.c,lineWidth:2.6,fill:null,lineCap:'square'}};}});
series.push({type:'scatter',xAxisIndex:1,yAxisIndex:1,silent:true,z:4,symbol:STAR,symbolSize:7,itemStyle:{color:'#000',opacity:1},data:supportStars.map(s=>[s[0],cal(s[1])])});
// band next to the tree
const sampleColor=[];groupCounts.forEach((n,g)=>{for(let i=0;i<n;i++)sampleColor.push(groupColors[g]);});
series.push({type:'bar',xAxisIndex:2,yAxisIndex:2,silent:true,barWidth:'102%',data:bandColor.map(c=>({value:1,itemStyle:{color:c}}))});
series.push({type:'custom',xAxisIndex:2,yAxisIndex:2,silent:true,clip:true,z:3,data:bandRows.map(i=>[0,i]),
 renderItem:(p,api)=>{const i=api.value(1);const a=api.coord([0,i]),b=api.coord([1,i]),h=api.size([0,1])[1];
  return {type:'line',shape:{x1:a[0],y1:a[1]-h/2,x2:b[0],y2:b[1]-h/2},style:{stroke:'rgba(255,255,255,0.22)',lineWidth:1}};}});
// structure panels
[k7,k8,k9].forEach((k,i)=>{
 Object.keys(layerColors).forEach(name=>series.push({type:'bar',name,stack:'k'+i,xAxisIndex:3+i,yAxisIndex:3+i,silent:true,barWidth:'101%',
  itemStyle:{color:layerColors[name]},data:k[name]}));
 series.push({type:'custom',xAxisIndex:3+i,yAxisIndex:3+i,silent:true,clip:true,z:3,data:samples.map(j=>[j,0]),
  renderItem:(p,api)=>{const j=api.value(0);const a=api.coord([j,0]),b=api.coord([j,1]),w=api.size([1,0])[0];
   return {type:'line',shape:{x1:a[0]-w/2,y1:a[1],x2:b[0]-w/2,y2:b[1]},style:{stroke:'rgba(255,255,255,0.42)',lineWidth:1}};}});
});
series.push({type:'bar',xAxisIndex:6,yAxisIndex:6,silent:true,barWidth:'101%',data:sampleColor.map(c=>({value:1,itemStyle:{color:c}}))});
// pcoa
pcoaCircles.forEach(g=>series.push({type:'scatter',xAxisIndex:7,yAxisIndex:7,silent:true,z:5,symbol:'circle',symbolSize:17,itemStyle:{color:g.c,opacity:1},data:g.p}));
series.push({type:'scatter',xAxisIndex:7,yAxisIndex:7,silent:true,z:5,symbol:'diamond',symbolSize:[22,26],itemStyle:{color:BLUE,opacity:1},data:pcoaDiamonds});
series.push({type:'scatter',xAxisIndex:7,yAxisIndex:7,silent:true,z:5,symbol:'triangle',symbolSize:[17,22],itemStyle:{color:LIME,opacity:1},data:pcoaTriangles});
series.push({type:'scatter',xAxisIndex:7,yAxisIndex:7,silent:true,z:5,symbol:XSYM,symbolSize:13,itemStyle:{color:'none',borderColor:GREEN,borderWidth:1.6,opacity:1},data:pcoaCrosses});
series.push({type:'scatter',xAxisIndex:7,yAxisIndex:7,silent:true,z:5,symbol:'rect',symbolSize:16,itemStyle:{color:GREEN,opacity:1},data:pcoaSquares});
// boxes
series.push({type:'custom',xAxisIndex:8,yAxisIndex:8,silent:true,clip:false,z:5,
 data:boxCats.map((_,i)=>[boxMed[i],i+1,i]),
 renderItem:(p,api)=>{
  const i=api.value(2),y=i+1,P=(v,dy=0)=>api.coord([v,y+dy]);
  const line=(a,b,w,c,dash)=>({type:'line',shape:{x1:a[0],y1:a[1],x2:b[0],y2:b[1]},style:Object.assign({stroke:c,lineWidth:w,fill:null},dash?{lineDash:[24,24],lineDashOffset:12.5}:{})});
  const tl=P(boxQ1[i],.375),br=P(boxQ3[i],-.375);
  return {type:'group',children:[
   line(P(boxMin[i]),P(boxQ1[i]),2.5,'#111',true),
   line(P(boxMax[i]),P(boxQ3[i]),2.5,'#111',true),
   line(P(boxMin[i],.145),P(boxMin[i],-.145),2,'#222'),
   line(P(boxMax[i],.145),P(boxMax[i],-.145),2,'#222'),
   {type:'rect',shape:{x:tl[0],y:tl[1],width:br[0]-tl[0],height:br[1]-tl[1]},style:{fill:boxColors[i],stroke:'#3b3b3b',lineWidth:2.5}},
   line(P(boxMed[i],.375),P(boxMed[i],-.375),5.5,'#3b3b3b')]};
 }});

// ---------- graphic text and annotation
const g=[];
[['(a)',50,62],['(b)',51,1000],['(c)',1287,69],['(d)',1289,654],['(e)',1290,1343]].forEach(a=>g.push(T(a[0],a[1],a[2],28,{w:'bold'})));
mapLabels.forEach(l=>g.push(T(l[0],l[1],l[2],20,{w:'bold',a:'center'})));
treeLabels.forEach(l=>g.push(T(l[0],l[1],cal(l[2]),20.5,{c:l[3]})));
cladeLabels.forEach(l=>g.push(T(l[0],l[1],cal(l[2]),20.5,{w:'bold'})));
g.push(T('D. zingiberensis',277,cal(1881.6),20.7,{w:'bold',st:'italic'}));
bandLabels.forEach(l=>g.push(T(l[0],1205,cal(l[1]),20,{w:'bold',a:'center'})));
structLabels.forEach(l=>g.push(T(l[0],l[1],546,21,{w:'bold',a:'center'})));
g.push(T('K=7',2314,167,28),T('K=8 (best)',2314,309,28,{w:'bold'}),T('K=9',2314,456,28));
[[1316,1939],[1948,2051],[2060,2117.6],[2124,2281]].forEach(b=>g.push({type:'rect',z:100,silent:true,shape:{x:b[0],y:572.5,width:b[1]-b[0],height:4},style:{fill:'#e0e0e0'}}));
g.push(T('Diploid',1637,589.5,20,{w:'bold',a:'center'}),T('Hexaploid',2090,589,20,{w:'bold',a:'center'}),T('Tetraploid',2206,589,20,{w:'bold',a:'center'}),T('Di-tetra-octoploid',1991.5,622,20,{w:'bold',a:'center'}));
g.push({type:'line',z:100,silent:true,shape:{x1:2007,y1:581.6,x2:1999,y2:606.5},style:{stroke:'#999',lineWidth:1.5}});
g.push({type:'rect',z:-1,silent:true,shape:{x:1300,y:692,width:993,height:616},style:{fill:'none',stroke:'#eaeaea',lineWidth:2}});
g.push({type:'text',z:100,silent:true,style:{text:'Nucleotide diversity ({i|π})',x:1867,y:1953,font:font(29,'bold'),fill:'#000',align:'center',textAlign:'center',verticalAlign:'middle',textVerticalAlign:'middle',rich:{i:{font:font(29,'bold','italic'),fill:'#000'}}}});
function legend(bx,by,bw,bh,mx,tx,ty,ry,rx1,rx2,rows,textRows){
  g.push({type:'rect',z:99,silent:true,shape:{x:bx,y:by,width:bw,height:bh},style:{fill:'#fff',stroke:'#eeeeee',lineWidth:1.5}});
  g.push(T('Ploidy',tx,ty,20,{w:'bold'}));
  g.push({type:'line',z:100,silent:true,shape:{x1:rx1,y1:ry,x2:rx2,y2:ry},style:{stroke:'#333',lineWidth:1.5}});
  const st={fill:'#999',stroke:'#555',lineWidth:1.5};
  g.push({type:'circle',z:100,silent:true,shape:{cx:mx,cy:rows[0],r:10.5},style:st});
  g.push({type:'rect',z:100,silent:true,shape:{x:mx-10.5,y:rows[1]-10.5,width:21,height:21},style:st});
  g.push({type:'polygon',z:100,silent:true,shape:{points:[[mx,rows[2]-9.5],[mx+10.5,rows[2]+9],[mx-10.5,rows[2]+9]]},style:st});
  g.push({type:'line',z:100,silent:true,shape:{x1:mx-9,y1:rows[3]-9,x2:mx+9,y2:rows[3]+9},style:{stroke:'#444',lineWidth:1.2}});
  g.push({type:'line',z:100,silent:true,shape:{x1:mx+9,y1:rows[3]-9,x2:mx-9,y2:rows[3]+9},style:{stroke:'#444',lineWidth:1.2}});
  ploidyRows.forEach((r,i)=>g.push(T(r,mx+24,textRows[i],20,{w:'bold'})));
}
legend(1057,662,156,159,1071.7,1064,679,694,1061.7,1209,[712,741.7,771.7,805],[710.7,741.7,773,804.3]);
legend(2122,1139,156,158,2137.4,2129,1155,1170,2127.5,2275,[1188,1218,1250,1281],[1187,1218,1249.6,1281]);

const chart=echarts.init(document.getElementById('c'),null,{renderer:'canvas'});
chart.setOption({animation:false,backgroundColor:'#fff',textStyle:{fontFamily:FONT},grid:grids,xAxis:xAxes,yAxis:yAxes,series,graphic:{elements:g}});
</script></body></html>
